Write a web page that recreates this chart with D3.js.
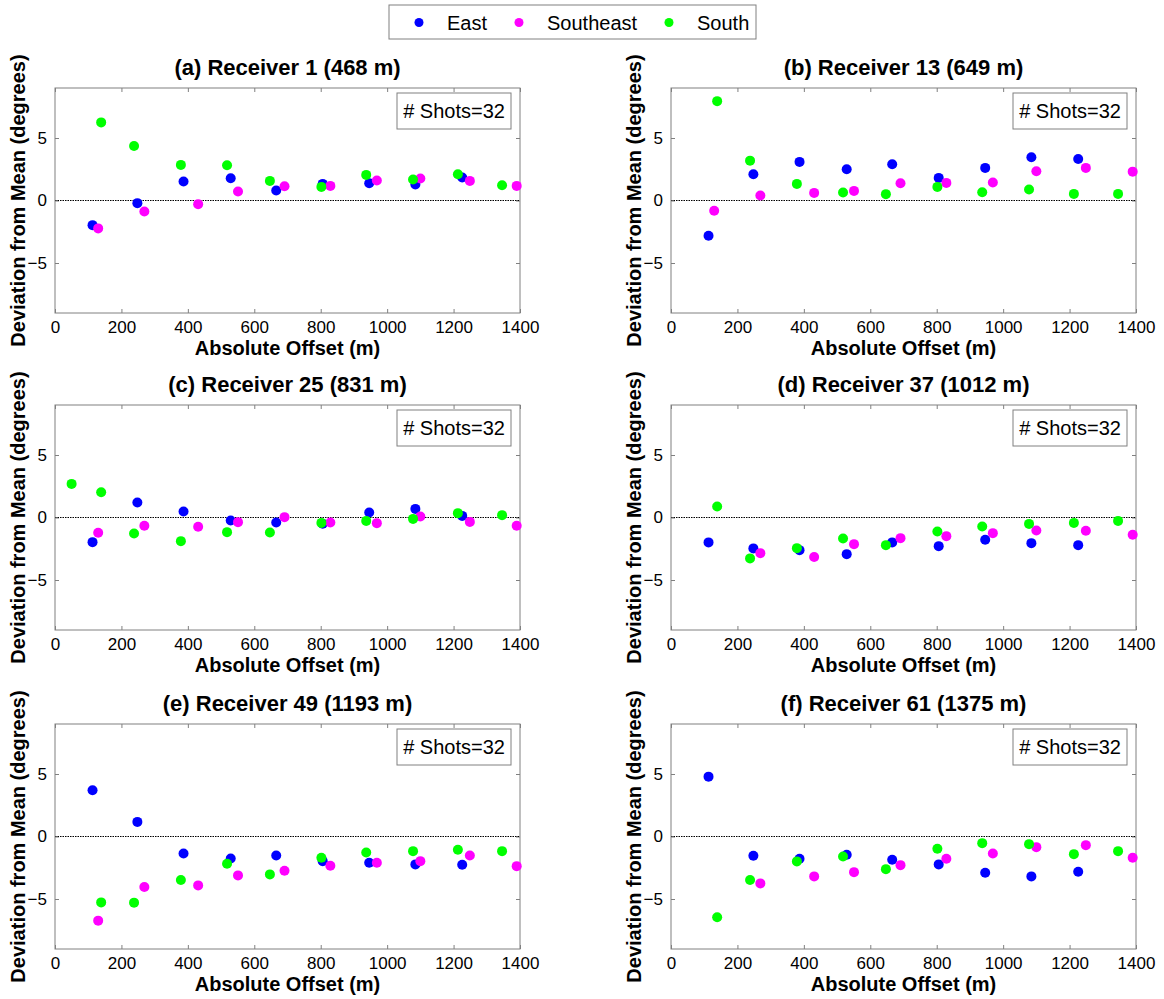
<!DOCTYPE html>
<html>
<head>
<meta charset="utf-8">
<script src="https://cdn.jsdelivr.net/npm/d3@7"></script>
<style>
  html, body { margin: 0; padding: 0; background: #fff; }
  text { font-family: "Liberation Sans", Arial, sans-serif; }
</style>
</head>
<body>
<svg id="chart" width="1164" height="999"></svg>
<script>
// ---------- DATA ----------
const seriesNames = ["East", "Southeast", "South"];
const seriesColors = ["#0000ff", "#ff00ff", "#00ff00"];
const panelTitles = [
  "(a) Receiver 1 (468 m)", "(b) Receiver 13 (649 m)",
  "(c) Receiver 25 (831 m)", "(d) Receiver 37 (1012 m)",
  "(e) Receiver 49 (1193 m)", "(f) Receiver 61 (1375 m)"
];
const xTicks = [0, 200, 400, 600, 800, 1000, 1200, 1400];
const yTicks = [-5, 0, 5];
const shotsLabel = "# Shots=32";

const eastX = [113, 248, 387, 529, 666, 806, 946, 1085, 1226];
const southeastX = [130, 269, 431, 551, 691, 829, 969, 1100, 1249, 1390];
const southX = [50, 139, 238, 379, 518, 647, 802, 937, 1078, 1213, 1346];

const eastY = [
  [-1.97, -0.21, 1.52, 1.78, 0.80, 1.33, 1.38, 1.28, 1.84],
  [-2.82, 2.10, 3.09, 2.50, 2.90, 1.81, 2.61, 3.46, 3.32],
  [-1.97, 1.20, 0.48, -0.24, -0.40, -0.50, 0.40, 0.69, 0.13],
  [-1.99, -2.47, -2.61, -2.93, -1.99, -2.29, -1.78, -2.05, -2.21],
  [3.70, 1.17, -1.36, -1.76, -1.52, -1.97, -2.10, -2.23, -2.26],
  [4.79, -1.54, -1.78, -1.46, -1.86, -2.23, -2.90, -3.19, -2.82]
];
const southeastY = [
  [-2.23, -0.88, -0.29, 0.72, 1.14, 1.17, 1.60, 1.76, 1.57, 1.17],
  [-0.82, 0.40, 0.61, 0.77, 1.38, 1.41, 1.44, 2.34, 2.61, 2.31],
  [-1.22, -0.66, -0.74, -0.37, 0.03, -0.40, -0.45, 0.08, -0.35, -0.66],
  [null, -2.85, -3.16, -2.13, -1.65, -1.49, -1.25, -1.04, -1.06, -1.38],
  [-6.73, -4.04, -3.91, -3.11, -2.74, -2.34, -2.10, -1.97, -1.52, -2.37],
  [null, -3.75, -3.19, -2.85, -2.29, -1.78, -1.36, -0.85, -0.69, -1.70]
];
const southY = [
  [null, 6.25, 4.36, 2.85, 2.82, 1.57, 1.09, 2.05, 1.68, 2.10, 1.22],
  [null, 7.95, 3.19, 1.33, 0.64, 0.51, 1.09, 0.66, 0.88, 0.53, 0.53],
  [2.69, 2.02, -1.28, -1.89, -1.17, -1.20, -0.43, -0.27, -0.11, 0.35, 0.19],
  [null, 0.88, -3.27, -2.45, -1.68, -2.21, -1.12, -0.72, -0.51, -0.43, -0.27],
  [null, -5.27, -5.29, -3.48, -2.18, -3.03, -1.70, -1.28, -1.17, -1.06, -1.17],
  [null, -6.46, -3.48, -1.99, -1.60, -2.61, -0.98, -0.53, -0.61, -1.41, -1.17]
];

// ---------- LAYOUT ----------
const svg = d3.select("#chart");
const lefts = [55, 671];
const tops = [88, 405, 724];
const W = 465, H = 225;
const axisColor = "#808080";
const R = 5;

const seriesX = [eastX, southeastX, southX];
const seriesY = [eastY, southeastY, southY];

panelTitles.forEach((title, p) => {
  const col = p % 2, row = Math.floor(p / 2);
  const g = svg.append("g").attr("transform", `translate(${lefts[col]},${tops[row]})`);
  const x = d3.scaleLinear().domain([0, 1400]).range([0, W]);
  const y = d3.scaleLinear().domain([-9, 9]).range([H, 0]);

  g.append("rect").attr("width", W).attr("height", H).attr("fill", "#fff");

  const tickLen = 4;
  const bottom = g.append("g").attr("transform", `translate(0,${H})`)
    .call(d3.axisBottom(x).tickValues(xTicks).tickSizeInner(-tickLen).tickSizeOuter(0).tickPadding(8).tickFormat(d3.format("d")));
  const top = g.append("g")
    .call(d3.axisTop(x).tickValues(xTicks).tickSizeInner(-tickLen).tickSizeOuter(0).tickFormat(""));
  const left = g.append("g")
    .call(d3.axisLeft(y).tickValues(yTicks).tickSizeInner(-tickLen).tickSizeOuter(0).tickPadding(8).tickFormat(d3.format("d")));
  const right = g.append("g").attr("transform", `translate(${W},0)`)
    .call(d3.axisRight(y).tickValues(yTicks).tickSizeInner(-tickLen).tickSizeOuter(0).tickFormat(""));
  [bottom, top, left, right].forEach(a => {
    a.select(".domain").remove();
    a.selectAll("line").attr("stroke", axisColor);
    a.selectAll("text").attr("fill", "#000").style("font-size", "17px")
      .style("font-family", '"Liberation Sans", Arial, sans-serif');
  });
  bottom.selectAll("text").attr("dy", "0.71em");

  g.append("line").attr("x1", 0).attr("x2", W).attr("y1", y(0)).attr("y2", y(0))
    .attr("stroke", "#000").attr("stroke-width", 1.2).attr("stroke-dasharray", "1.5,1");

  g.append("rect").attr("width", W).attr("height", H).attr("fill", "none")
    .attr("stroke", axisColor).attr("stroke-width", 1);

  seriesX.forEach((xs, s) => {
    const ys = seriesY[s][p];
    const pts = xs.map((xv, i) => ({ x: xv, y: ys[i] })).filter(d => d.y !== null);
    g.append("g").selectAll("circle").data(pts).join("circle")
      .attr("cx", d => x(d.x)).attr("cy", d => y(d.y)).attr("r", R)
      .attr("fill", seriesColors[s]);
  });

  const bw = 114, bh = 36;
  const bx = W - 9 - bw, by = 5;
  g.append("rect").attr("x", bx).attr("y", by).attr("width", bw).attr("height", bh)
    .attr("fill", "#fff").attr("stroke", axisColor);
  g.append("text").attr("x", bx + bw / 2).attr("y", by + bh / 2).attr("dy", "0.36em")
    .attr("text-anchor", "middle").style("font-size", "20px").text(shotsLabel);

  g.append("text").attr("x", W / 2).attr("y", -21).attr("dy", "0.36em")
    .attr("text-anchor", "middle").style("font-size", "22px").style("font-weight", "bold")
    .text(title);
  g.append("text").attr("x", W / 2).attr("y", H + 35).attr("dy", "0.36em")
    .attr("text-anchor", "middle").style("font-size", "20px").style("font-weight", "bold")
    .text("Absolute Offset (m)");
  g.append("text").attr("transform", `translate(-37,${H / 2}) rotate(-90)`).attr("dy", "0.36em")
    .attr("text-anchor", "middle").style("font-size", "20px").style("font-weight", "bold")
    .text("Deviation from Mean (degrees)");
});

// ---------- LEGEND ----------
const legend = svg.append("g");
legend.append("rect").attr("x", 389).attr("y", 5).attr("width", 367).attr("height", 34)
  .attr("fill", "#fff").attr("stroke", axisColor);
const legMarkX = [419, 519, 669];
seriesNames.forEach((n, i) => {
  legend.append("circle").attr("cx", legMarkX[i]).attr("cy", 22.5).attr("r", 4.5).attr("fill", seriesColors[i]);
  legend.append("text").attr("x", legMarkX[i] + 28).attr("y", 22.5).attr("dy", "0.36em")
    .style("font-size", "20px").text(n);
});
</script>
</body>
</html>
